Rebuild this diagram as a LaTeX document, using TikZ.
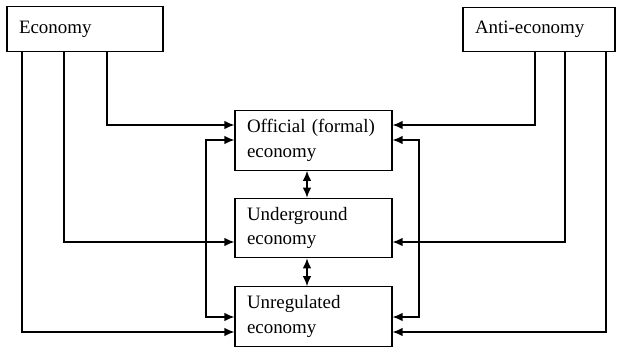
\documentclass[tikz,border=0pt]{standalone}
\usepackage{fontspec}
\setmainfont{Liberation Serif}
\usetikzlibrary{arrows.meta}
\begin{document}
\begin{tikzpicture}[x=0.75pt,y=-0.75pt,
  box/.style={draw,line width=0.9pt,rectangle,inner xsep=9pt,inner ysep=0pt,align=left,
    font=\fontsize{14.2}{18.4}\selectfont},
  topbox/.style={box,minimum height=33.5pt},
  midbox/.style={box,minimum width=117.75pt,minimum height=44.6pt,text width=99.75pt},
  tip/.style={Latex[length=7.5pt,width=6.5pt]},
  conn/.style={line width=1.1pt,-{Latex[length=7.5pt,width=6.5pt]}},
  dbl/.style={line width=1.1pt,{Latex[length=7.5pt,width=6.5pt]}-{Latex[length=7.5pt,width=6.5pt]}}]
\useasboundingbox (0,0) rectangle (617,349);
\node[topbox,minimum width=117pt,text width=99pt] (eco) at (85,29) {Economy};
\node[topbox,minimum width=114pt,text width=96pt] (anti) at (539,29.5) {Anti-economy};
\node[midbox] (off) at (313.5,140.5) {\raisebox{-2pt}{Official (formal)}\\\raisebox{-2pt}{economy}};
\node[midbox] (und) at (313.5,228) {\raisebox{-2pt}{Underground}\\\raisebox{-2pt}{economy}};
\node[midbox] (unr) at (313.5,316.5) {\raisebox{-2pt}{Unregulated}\\\raisebox{-2pt}{economy}};
% reference coordinates
\coordinate (ex1) at (22,0);
\coordinate (ex2) at (64,0);
\coordinate (ex3) at (107,0);
\coordinate (ax1) at (535,0);
\coordinate (ax2) at (565,0);
\coordinate (ax3) at (606,0);
\coordinate (lx) at (206,0);
\coordinate (rx) at (419,0);
\coordinate (dx) at (307,0);
\coordinate (ya) at (0,125);
\coordinate (yb) at (0,140);
\coordinate (yc) at (0,242);
\coordinate (yd) at (0,317);
\coordinate (ye) at (0,332);
% economy connectors
\draw[conn] (eco.south -| ex3) |- (off.west |- ya);
\draw[conn] (eco.south -| ex2) |- (und.west |- yc);
\draw[conn] (eco.south -| ex1) |- (unr.west |- ye);
% anti-economy connectors
\draw[conn] (anti.south -| ax1) |- (off.east |- ya);
\draw[conn] (anti.south -| ax2) |- (und.east |- yc);
\draw[conn] (anti.south -| ax3) |- (unr.east |- ye);
% loops
\draw[dbl] (off.west |- yb) -| (lx |- yd) -- (unr.west |- yd);
\draw[dbl] (off.east |- yb) -| (rx |- yd) -- (unr.east |- yd);
% between boxes
\draw[dbl] (off.south -| dx) -- (und.north -| dx);
\draw[dbl] (und.south -| dx) -- (unr.north -| dx);
\end{tikzpicture}
\end{document}
